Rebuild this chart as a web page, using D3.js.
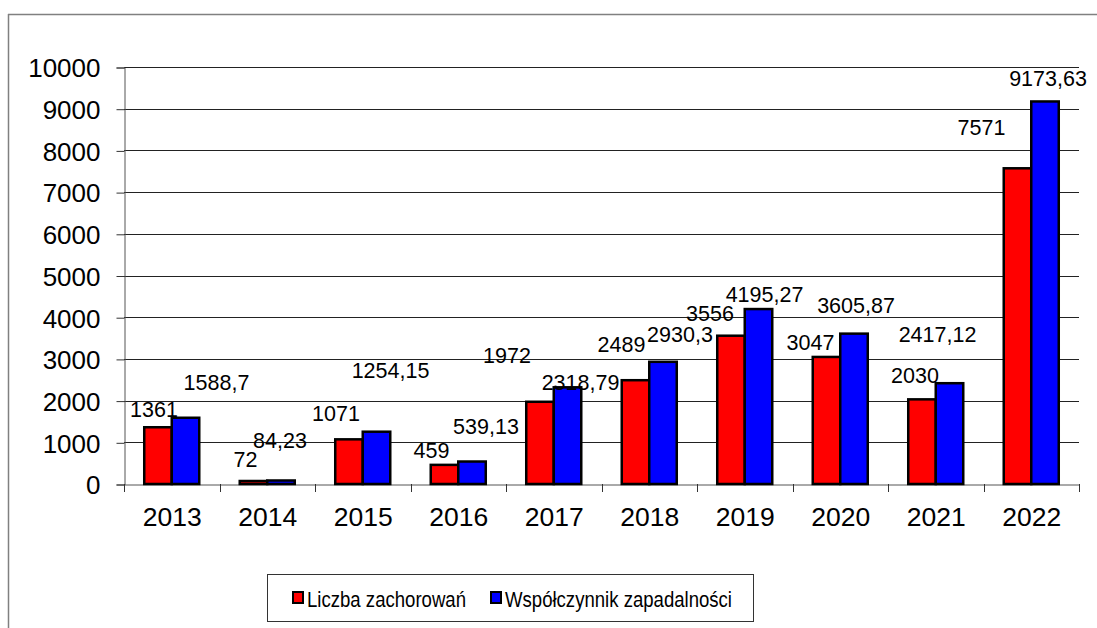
<!DOCTYPE html>
<html>
<head>
<meta charset="utf-8">
<script src="https://cdn.jsdelivr.net/npm/d3@7"></script>
<style>
  body { margin: 0; background: #fff; }
  text { font-family: "Liberation Sans", Arial, sans-serif; fill: #000; }
</style>
</head>
<body>
<svg id="chart" width="1097" height="628"></svg>
<script>
// data
const years = ['2013', '2014', '2015', '2016', '2017', '2018', '2019', '2020', '2021', '2022']
const cases = [1361, 72, 1071, 459, 1972, 2489, 3556, 3047, 2030, 7571]
const incidence = [1588.7, 84.23, 1254.15, 539.13, 2318.79, 2930.3, 4195.27, 3605.87, 2417.12, 9173.63]
const seriesNames = ['Liczba zachorowań', 'Współczynnik zapadalności']
const seriesColors = ['#ff0000', '#0000ff']
const yTicks = [0, 1000, 2000, 3000, 4000, 5000, 6000, 7000, 8000, 9000, 10000]

// the labels in the original sit at odd spots, nudges from the bar top (dx, dy)
const casesLabelShift = [[-4, -10], [-8, -14], [-13, -18], [-13, -7], [-33, -39], [-14, -28], [-21, -15], [-16, -7], [-7, -16], [-36, -33]]
const incidenceLabelShift = [[31, -28], [-1, -32], [14, -54], [14, -28], [13, 3], [17, -20], [6, -7], [2, -21], [-12, -41], [3, -15]]

const svg = d3.select('#chart')
const margin = { left: 124, right: 18, top: 67, bottom: 144 }
const width = 1097 - margin.left - margin.right
const height = 628 - margin.top - margin.bottom

// outer frame (only top + left visible in the original)
svg.append('line')
    .attr('x1', 8).attr('x2', 1097).attr('y1', 14.5).attr('y2', 14.5)
    .attr('stroke', '#808080').attr('stroke-width', 1.5)
svg.append('line')
    .attr('x1', 8.5).attr('x2', 8.5).attr('y1', 14).attr('y2', 628)
    .attr('stroke', '#808080').attr('stroke-width', 1.5)

const x = d3.scaleBand()
    .domain(years)
    .range([margin.left, margin.left + width])

const xSub = d3.scaleBand()
    .domain([0, 1])
    .range([x.bandwidth() * 0.212, x.bandwidth() * 0.788])

const y = d3.scaleLinear()
    .domain([0, 10000])
    .range([margin.top + height, margin.top])

// gridlines
svg.append('g')
    .selectAll('line')
    .data(yTicks.slice(1))
    .join('line')
    .attr('x1', margin.left)
    .attr('x2', margin.left + width)
    .attr('y1', d => Math.round(y(d)) + 0.5)
    .attr('y2', d => Math.round(y(d)) + 0.5)
    .attr('stroke', '#222')
    .attr('stroke-width', 1)

// y axis
const yAxis = svg.append('g')
    .attr('transform', `translate(${margin.left + 0.5},0.5)`)
    .call(d3.axisLeft(y).tickValues(yTicks).tickSize(8).tickPadding(16).tickFormat(d => d))
yAxis.select('.domain').attr('stroke', '#555')
yAxis.selectAll('.tick line').attr('stroke', '#333')
yAxis.selectAll('.tick text')
    .attr('font-size', 26)
    .attr('dy', '0.36em')
    .attr('fill', '#000')

// x axis
const xAxis = svg.append('g')
    .attr('transform', `translate(0.5,${Math.round(y(0)) + 0.5})`)
    .call(d3.axisBottom(x).tickSize(0).tickPadding(0))
xAxis.select('.domain').attr('stroke', '#555')
xAxis.selectAll('.tick text')
    .attr('font-size', 26.5)
    .attr('dy', 0)
    .attr('y', 41)
    .attr('fill', '#000')
xAxis.selectAll('.tick').select('line').remove()
svg.append('g')
    .selectAll('line')
    .data(years.concat(['end']))
    .join('line')
    .attr('x1', (d, i) => Math.round(margin.left + i * x.step()) + 0.5)
    .attr('x2', (d, i) => Math.round(margin.left + i * x.step()) + 0.5)
    .attr('y1', Math.round(y(0)))
    .attr('y2', Math.round(y(0)) + 8)
    .attr('stroke', '#333')

const seriesData = [cases, incidence]
const labelShift = [casesLabelShift, incidenceLabelShift]

seriesData.forEach((values, s) => {
    const g = svg.append('g')
    g.selectAll('rect')
        .data(values)
        .join('rect')
        .attr('x', (d, i) => x(years[i]) + xSub(s))
        .attr('y', d => y(d))
        .attr('width', xSub.bandwidth())
        .attr('height', d => y(0) - y(d))
        .attr('fill', seriesColors[s])
        .attr('stroke', '#000')
        .attr('stroke-width', 2.5)

    g.selectAll('text')
        .data(values)
        .join('text')
        .attr('x', (d, i) => x(years[i]) + xSub(s) + xSub.bandwidth() / 2 + labelShift[s][i][0])
        .attr('y', (d, i) => y(d) + labelShift[s][i][1])
        .attr('text-anchor', 'middle')
        .attr('font-size', 21.5)
        .text(d => String(d).replace('.', ','))
})

// legend
const legend = svg.append('g')
legend.append('rect')
    .attr('x', 267.5).attr('y', 574.5)
    .attr('width', 486).attr('height', 47)
    .attr('fill', '#fff')
    .attr('stroke', '#333')
    .attr('stroke-width', 1)

const legendX = [293, 491]
const legendTextLen = [159, 227]
seriesNames.forEach((name, s) => {
    legend.append('rect')
        .attr('x', legendX[s]).attr('y', 592)
        .attr('width', 10).attr('height', 11)
        .attr('fill', seriesColors[s])
        .attr('stroke', '#000')
        .attr('stroke-width', 2)
    legend.append('text')
        .attr('x', legendX[s] + 14)
        .attr('y', 607)
        .attr('font-size', 22.5)
        .attr('textLength', legendTextLen[s])
        .attr('lengthAdjust', 'spacingAndGlyphs')
        .text(name)
})
</script>
</body>
</html>
